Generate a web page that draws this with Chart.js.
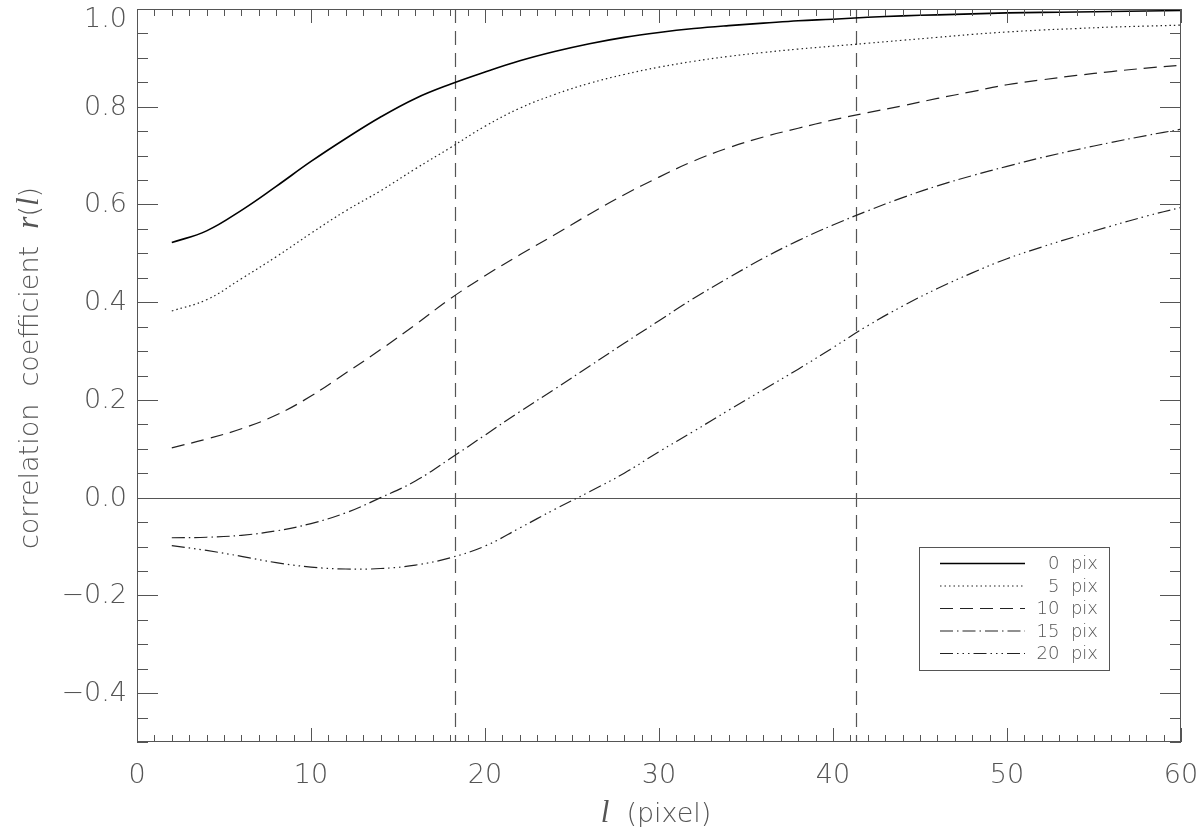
<!DOCTYPE html>
<html>
<head>
<meta charset="utf-8">
<script src="https://cdn.jsdelivr.net/npm/chart.js@4.4.1/dist/chart.umd.min.js"></script>
<style>
    html, body { margin: 0; padding: 0; background: #fff; }
    #wrap { width: 1200px; height: 835px; }
</style>
</head>
<body>
<div id="wrap"><canvas id="corrChart" width="1200" height="835"></canvas></div>
<script>
/* ================= DATA ================= */

const lagValues = [2, 4, 6, 8, 10, 12, 14, 16, 18, 20, 22, 24, 26, 28, 30,
                   32, 34, 36, 38, 40, 42, 44, 46, 48, 50, 52, 54, 56, 58, 60];

const r0pix = [0.522, 0.546, 0.588, 0.637, 0.688, 0.735, 0.779, 0.817, 0.846, 0.871,
               0.894, 0.913, 0.929, 0.942, 0.952, 0.960, 0.966, 0.971, 0.976, 0.979,
               0.983, 0.986, 0.988, 0.990, 0.992, 0.993, 0.994, 0.995, 0.996, 0.997];

const r5pix = [0.382, 0.405, 0.448, 0.493, 0.541, 0.587, 0.628, 0.673, 0.716, 0.760,
               0.797, 0.825, 0.848, 0.866, 0.881, 0.893, 0.903, 0.911, 0.918, 0.924,
               0.930, 0.936, 0.942, 0.948, 0.953, 0.957, 0.960, 0.963, 0.965, 0.967];

const r10pix = [0.102, 0.120, 0.141, 0.169, 0.208, 0.255, 0.303, 0.354, 0.407, 0.454,
                0.497, 0.538, 0.580, 0.620, 0.656, 0.689, 0.716, 0.738, 0.756, 0.773,
                0.788, 0.802, 0.817, 0.831, 0.845, 0.855, 0.864, 0.872, 0.879, 0.885];

const r15pix = [-0.082, -0.081, -0.077, -0.068, -0.053, -0.031, 0.000, 0.034, 0.080, 0.128,
                0.176, 0.222, 0.269, 0.316, 0.362, 0.408, 0.450, 0.490, 0.526, 0.558,
                0.587, 0.614, 0.638, 0.659, 0.678, 0.696, 0.712, 0.727, 0.741, 0.754];

const r20pix = [-0.098, -0.108, -0.120, -0.133, -0.142, -0.146, -0.145, -0.138, -0.123, -0.099,
                -0.062, -0.024, 0.012, 0.050, 0.094, 0.136, 0.179, 0.221, 0.263, 0.307,
                0.352, 0.392, 0.428, 0.460, 0.489, 0.513, 0.535, 0.556, 0.576, 0.594];

const seriesLabels = ['0 pix', '5 pix', '10 pix', '15 pix', '20 pix'];

// vertical dashed reference lines
const markerLags = [18.3, 41.3];

const xTicks = [0, 10, 20, 30, 40, 50, 60];
const yTicks = [-0.4, -0.2, 0.0, 0.2, 0.4, 0.6, 0.8, 1.0];
const xMinorStep = 1;
const yMinorStep = 0.05;

/* ================= STYLES ================= */

const axisGray = '#555';
const labelGray = '#555';
const sansFont = '"DejaVu Sans", "Liberation Sans", sans-serif';
const serifFont = '"Liberation Serif", "DejaVu Serif", serif';

const seriesStyles = [
    { color: '#000', width: 1.6, dash: [] },
    { color: '#222', width: 1.2, dash: [1.5, 3] },
    { color: '#222', width: 1.2, dash: [13, 7] },
    { color: '#222', width: 1.2, dash: [13, 4, 1.5, 4] },
    { color: '#222', width: 1.2, dash: [13, 4, 1.5, 4, 1.5, 4, 1.5, 4] }
];

const allSeries = [r0pix, r5pix, r10pix, r15pix, r20pix];

const datasets = allSeries.map(function(values, i) {
    return {
        label: seriesLabels[i],
        data: lagValues.map((l, k) => ({ x: l, y: values[k] })),
        borderColor: seriesStyles[i].color,
        borderWidth: seriesStyles[i].width,
        borderDash: seriesStyles[i].dash,
        pointRadius: 0,
        fill: false,
        tension: 0.4
    };
});

function strokeLine(ctx, x1, y1, x2, y2) {
    ctx.beginPath();
    ctx.moveTo(x1, y1);
    ctx.lineTo(x2, y2);
    ctx.stroke();
}

/* ================= FRAME, TICKS, LEGEND, TITLES ================= */

const framePlugin = {
    id: 'idlFrame',

    beforeDatasetsDraw(chart) {
        const { ctx, chartArea: a, scales: { x, y } } = chart;
        ctx.save();

        // zero line
        ctx.strokeStyle = axisGray;
        ctx.lineWidth = 1.2;
        const y0 = Math.round(y.getPixelForValue(0)) + 0.5;
        strokeLine(ctx, a.left, y0, a.right, y0);

        // vertical dashed markers
        ctx.setLineDash([14, 8]);
        ctx.lineWidth = 1.2;
        markerLags.forEach(function(v) {
            const px = Math.round(x.getPixelForValue(v)) + 0.5;
            strokeLine(ctx, px, a.top, px, a.bottom);
        });
        ctx.restore();
    },

    afterDatasetsDraw(chart) {
        const { ctx, chartArea: a, scales: { x, y } } = chart;
        ctx.save();
        ctx.strokeStyle = axisGray;
        ctx.lineWidth = 1;

        // box
        ctx.strokeRect(a.left + 0.5, a.top + 0.5, a.right - a.left - 1, a.bottom - a.top - 1);

        // x ticks on bottom and top (inward)
        for (let v = x.min; v <= x.max + 1e-9; v += xMinorStep) {
            const px = Math.round(x.getPixelForValue(v)) + 0.5;
            const major = xTicks.some(t => Math.abs(t - v) < 1e-6);
            const len = major ? 14 : 7;
            strokeLine(ctx, px, a.bottom, px, a.bottom - len);
            strokeLine(ctx, px, a.top, px, a.top + len);
        }

        // y ticks on left and right (inward)
        for (let v = y.min; v <= y.max + 1e-9; v += yMinorStep) {
            const py = Math.round(y.getPixelForValue(v)) + 0.5;
            const major = yTicks.some(t => Math.abs(t - v) < 1e-6);
            const len = major ? 21 : 11;
            strokeLine(ctx, a.left, py, a.left + len, py);
            strokeLine(ctx, a.right, py, a.right - len, py);
        }

        const italic = 'italic 31px ' + serifFont;
        const plain = '200 27px ' + sansFont;

        // y tick labels (top one pushed down so it stays inside the canvas)
        ctx.fillStyle = labelGray;
        ctx.font = plain;
        ctx.textAlign = 'right';
        ctx.textBaseline = 'middle';
        yTicks.forEach(function(v) {
            const py = Math.max(y.getPixelForValue(v), a.top + 10);
            ctx.fillText(v.toFixed(1).replace('-', '\u2212'), a.left - 10, py + 1);
        });

        // legend
        const lgLeft = 919, lgTop = 547, lgRight = 1109, lgBottom = 670;
        ctx.strokeStyle = axisGray;
        ctx.lineWidth = 1;
        ctx.strokeRect(lgLeft + 0.5, lgTop + 0.5, lgRight - lgLeft, lgBottom - lgTop);

        ctx.font = '200 18px ' + sansFont;
        chart.data.datasets.forEach(function(ds, i) {
            const rowY = lgTop + 16.5 + i * 22.5;
            ctx.save();
            ctx.strokeStyle = ds.borderColor;
            ctx.lineWidth = ds.borderWidth;
            ctx.setLineDash(ds.borderDash);
            strokeLine(ctx, 940, rowY, 1025, rowY);
            ctx.restore();
            ctx.fillText(ds.label.replace(' ', '  '), 1098, rowY + 1);
        });

        // x axis title: l (pixel)
        ctx.textAlign = 'left';
        ctx.textBaseline = 'alphabetic';
        ctx.font = italic;
        const wL = ctx.measureText('l').width;
        ctx.font = plain;
        const wRest = ctx.measureText('  (pixel)').width;
        let sx = (a.left + a.right) / 2 - (wL + wRest) / 2 - 3;
        ctx.font = italic;
        ctx.fillText('l', sx, 822);
        ctx.font = plain;
        ctx.fillText('  (pixel)', sx + wL, 822);

        // y axis title: correlation coefficient r(l)
        const parts = [
            ['correlation  coefficient  ', plain],
            ['r', italic],
            ['(', plain],
            ['l', italic],
            [')', plain]
        ];
        let total = 0;
        parts.forEach(function(p) { ctx.font = p[1]; total += ctx.measureText(p[0]).width; });
        ctx.translate(38, 368);
        ctx.rotate(-Math.PI / 2);
        let cx = -total / 2;
        parts.forEach(function(p) {
            ctx.font = p[1];
            ctx.fillText(p[0], cx, 0);
            cx += ctx.measureText(p[0]).width;
        });

        ctx.restore();
    }
};

/* ================= CHART ================= */

new Chart(document.getElementById('corrChart'), {

    type: 'line',

    data: {
        datasets: datasets
    },

    options: {
        responsive: false,
        animation: false,
        layout: {
            padding: { top: 9, right: 19, left: 0, bottom: 0 }
        },
        plugins: {
            legend: { display: false },
            tooltip: { enabled: false }
        },
        scales: {
            x: {
                type: 'linear',
                min: 0,
                max: 60,
                afterBuildTicks: function(scale) {
                    scale.ticks = xTicks.map(v => ({ value: v }));
                },
                afterFit: function(scale) {
                    scale.height = 93;
                    scale.paddingLeft = 0;
                    scale.paddingRight = 0;
                },
                grid: { display: false, drawTicks: false },
                border: { display: false },
                ticks: {
                    color: labelGray,
                    padding: 18,
                    maxRotation: 0,
                    autoSkip: false,
                    font: { family: sansFont, size: 27, weight: 200 }
                }
            },
            y: {
                type: 'linear',
                min: -0.5,
                max: 1.0,
                afterBuildTicks: function(scale) {
                    scale.ticks = yTicks.map(v => ({ value: v }));
                },
                afterFit: function(scale) {
                    scale.width = 137;
                    scale.paddingTop = 0;
                    scale.paddingBottom = 0;
                },
                grid: { display: false, drawTicks: false },
                border: { display: false },
                ticks: { display: false }
            }
        }
    },

    plugins: [framePlugin]
});
</script>
</body>
</html>
